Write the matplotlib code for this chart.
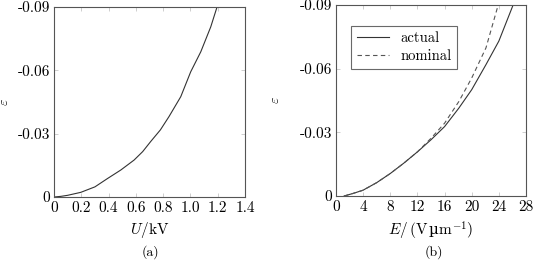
import matplotlib
matplotlib.use("Agg")
import matplotlib.pyplot as plt

plt.rcParams['font.family'] = ['cmr10', 'DejaVu Serif']
plt.rcParams['mathtext.fontset'] = 'cm'
plt.rcParams['axes.unicode_minus'] = False

# (a) strain vs. voltage
u_kv = [0.0, 0.05, 0.1, 0.196, 0.3, 0.391, 0.49, 0.587, 0.65, 0.709, 0.78, 0.843,
        0.929, 1.002, 1.076, 1.149, 1.195]
eps_a = [0.0, -0.0003, -0.0008, -0.0022, -0.0048, -0.0087, -0.0128, -0.0175, -0.0215,
         -0.0263, -0.0318, -0.0381, -0.0475, -0.0593, -0.0688, -0.0806, -0.09]

# (b) strain vs. field
e_act = [1.2, 2.5, 3.97, 6.0, 8.0, 10.0, 12.0, 14.0, 16.0, 18.1, 20.0, 22.1, 24.0, 26.1]
eps_act = [0.0, -0.0012, -0.0027, -0.0063, -0.0106, -0.0155, -0.0208, -0.0265, -0.0327,
           -0.0414, -0.0501, -0.0619, -0.073, -0.09]
e_nom = [1.2, 2.5, 3.97, 6.0, 8.0, 10.0, 12.0, 14.0, 16.0, 18.1, 20.0, 22.1, 23.9]
eps_nom = [0.0, -0.0012, -0.0027, -0.0063, -0.0106, -0.0155, -0.0208, -0.0272, -0.0343,
           -0.0445, -0.0556, -0.0698, -0.09]

yticks = [0, -0.03, -0.06, -0.09]
ylabels = ['0', '-0.03', '-0.06', '-0.09']
xticks_a = [0, 0.2, 0.4, 0.6, 0.8, 1.0, 1.2, 1.4]
xlabels_a = ['0', '0.2', '0.4', '0.6', '0.8', '1.0', '1.2', '1.4']
xticks_b = [0, 4, 8, 12, 16, 20, 24, 28]

fig = plt.figure(figsize=(5.33, 2.65), dpi=100)
ax1 = fig.add_axes([54/533, 1 - 197/265, 191/533, 190/265])
ax2 = fig.add_axes([336/533, 1 - 196/265, 190/533, 191/265])

line_c = '#333333'
ax1.plot(u_kv, eps_a, color=line_c, lw=0.8)
ax2.plot(e_act, eps_act, color=line_c, lw=0.8, label='actual')
ax2.plot(e_nom, eps_nom, color='#555555', lw=0.8, ls=(0, (4, 3)), label='nominal')

for ax in (ax1, ax2):
    ax.set_ylim(0, -0.09)
    ax.set_yticks(yticks)
    ax.set_yticklabels(ylabels)
    ax.tick_params(direction='in', top=True, right=True, length=3, width=0.5,
                   color='#bbbbbb', labelsize=11, pad=3)
    for s in ax.spines.values():
        s.set_color('#555555')
        s.set_linewidth(0.8)
    ax.set_ylabel(r'$\varepsilon$', fontsize=10)

ax1.yaxis.set_label_coords(-43/191, 0.5)
ax2.yaxis.set_label_coords(-54/190, 0.5)

ax1.set_xlim(0, 1.4)
ax1.set_xticks(xticks_a)
ax1.set_xticklabels(xlabels_a)
ax1.set_xlabel(r'$U/\mathrm{kV}$', fontsize=11, labelpad=4)

ax2.set_xlim(0, 28)
ax2.set_xticks(xticks_b)
ax2.set_xlabel('$E/\\,(\\mathrm{V}\\,$\u00b5$\\mathrm{m}^{-1})$', fontsize=11, labelpad=4,
               fontfamily='DejaVu Serif')

leg = ax2.legend(loc='upper left', fontsize=10.5, frameon=True, fancybox=False,
                 handlelength=2.2, borderpad=0.4, labelspacing=0.3,
                 bbox_to_anchor=(0.04, 0.93))
leg.get_frame().set_edgecolor('#444444')
leg.get_frame().set_linewidth(0.8)

fig.text(150/533, 1 - 252/265, '(a)', ha='center', va='center', fontsize=10)
fig.text(434/533, 1 - 252/265, '(b)', ha='center', va='center', fontsize=10)

fig.savefig('out.png', dpi=100)
